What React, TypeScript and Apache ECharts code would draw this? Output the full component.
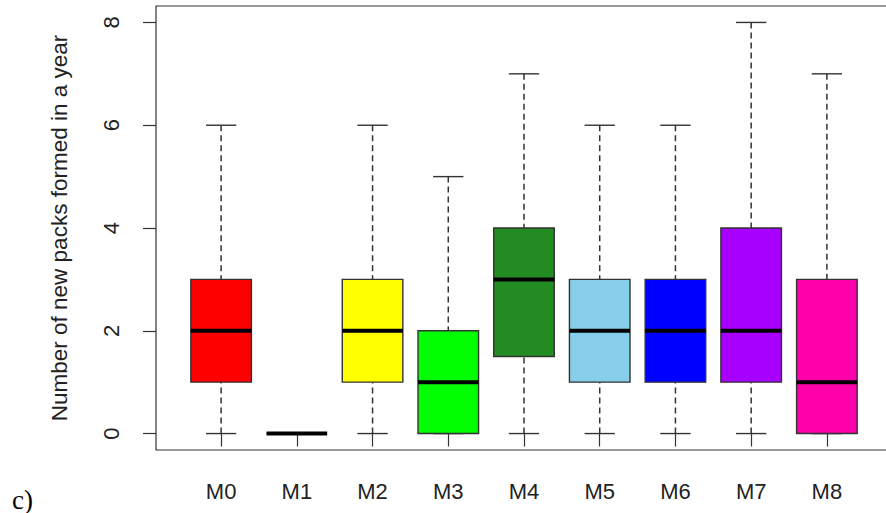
import React, { useEffect, useRef } from "react";
import * as echarts from "echarts";

const categories = ["M0", "M1", "M2", "M3", "M4", "M5", "M6", "M7", "M8"];
const whiskerLow = [0, 0, 0, 0, 0, 0, 0, 0, 0];
const quartile1 = [1, 0, 1, 0, 1.5, 1, 1, 1, 0];
const medians = [2, 0, 2, 1, 3, 2, 2, 2, 1];
const quartile3 = [3, 0, 3, 2, 4, 3, 3, 4, 3];
const whiskerHigh = [6, 0, 6, 5, 7, 6, 6, 8, 7];
const boxColors = ["#FF0000", "#FFFFFF", "#FFFF00", "#00FF00", "#228B22", "#87CEEB", "#0000FF", "#A800FF", "#FF00AA"];
const yTicks = [0, 2, 4, 6, 8];

export default function App() {
  const ref = useRef<HTMLDivElement>(null);
  useEffect(() => {
    if (!ref.current) return;
    const chart = echarts.init(ref.current, null, { renderer: "svg" });
    const data = categories.map((_, i) => [i + 1, whiskerLow[i], quartile1[i], medians[i], quartile3[i], whiskerHigh[i]]);
    const font = "Liberation Sans";
    const ink = "#222";
    chart.setOption({
      animation: false,
      backgroundColor: "#fff",
      grid: { left: 156, top: 6, width: 736, height: 444, show: true, borderColor: "#333", borderWidth: 1.2, backgroundColor: "transparent" },
      xAxis: {
        type: "value",
        min: 0.14,
        max: 9.86,
        axisLine: { show: false },
        splitLine: { show: false },
        axisTick: { show: true, length: 13, lineStyle: { color: "#333", width: 1.2 }, customValues: categories.map((_, i) => i + 1) },
        axisLabel: {
          customValues: categories.map((_, i) => i + 1),
          formatter: (v: number) => categories[Math.round(v) - 1] ?? "",
          margin: 30,
          fontFamily: font,
          fontSize: 22,
          color: ink,
        },
      },
      yAxis: {
        type: "value",
        min: -0.32,
        max: 8.32,
        axisLine: { show: false },
        splitLine: { show: false },
        axisTick: { show: true, length: 13, lineStyle: { color: "#333", width: 1.2 }, customValues: yTicks },
        axisLabel: { customValues: yTicks, rotate: 90, margin: 34, fontFamily: font, fontSize: 22, color: ink },
        name: "Number of new packs formed in a year",
        nameLocation: "middle",
        nameRotate: 90,
        nameGap: 85,
        nameTextStyle: { fontFamily: font, fontSize: 22.5, color: ink },
      },
      series: [
        {
          type: "custom",
          data,
          renderItem: (params: any, api: any) => {
            const x = api.value(0);
            const lo = api.coord([x, api.value(1)]);
            const q1 = api.coord([x, api.value(2)]);
            const md = api.coord([x, api.value(3)]);
            const q3 = api.coord([x, api.value(4)]);
            const hi = api.coord([x, api.value(5)]);
            const bw = api.size([0.8, 0])[0];
            const sw = bw * 0.5;
            const cx = lo[0];
            const fill = boxColors[params.dataIndex];
            const line = "#333";
            return {
              type: "group",
              children: [
                { type: "line", shape: { x1: cx, y1: hi[1], x2: cx, y2: q3[1] }, style: { stroke: line, lineWidth: 1.5, lineDash: [6, 4] } },
                { type: "line", shape: { x1: cx, y1: lo[1], x2: cx, y2: q1[1] }, style: { stroke: line, lineWidth: 1.5, lineDash: [6, 4] } },
                { type: "line", shape: { x1: cx - sw / 2, y1: hi[1], x2: cx + sw / 2, y2: hi[1] }, style: { stroke: line, lineWidth: 1.4 } },
                { type: "line", shape: { x1: cx - sw / 2, y1: lo[1], x2: cx + sw / 2, y2: lo[1] }, style: { stroke: line, lineWidth: 1.4 } },
                { type: "rect", shape: { x: cx - bw / 2, y: q3[1], width: bw, height: q1[1] - q3[1] }, style: { fill, stroke: line, lineWidth: 1.4 } },
                { type: "line", shape: { x1: cx - bw / 2, y1: md[1], x2: cx + bw / 2, y2: md[1] }, style: { stroke: "#000", lineWidth: 4 } },
              ],
            };
          },
        },
      ],
      graphic: [
        { type: "text", left: 12, top: 486, style: { text: "c)", fontFamily: "Liberation Serif", fontSize: 27, fill: "#000" } },
      ],
    });
    return () => chart.dispose();
  }, []);
  return (
    <div style={{ position: "fixed", left: 0, top: 0, width: 886, height: 513, overflow: "hidden", background: "#fff" }}>
      <div ref={ref} style={{ width: 910, height: 513 }} />
    </div>
  );
}
